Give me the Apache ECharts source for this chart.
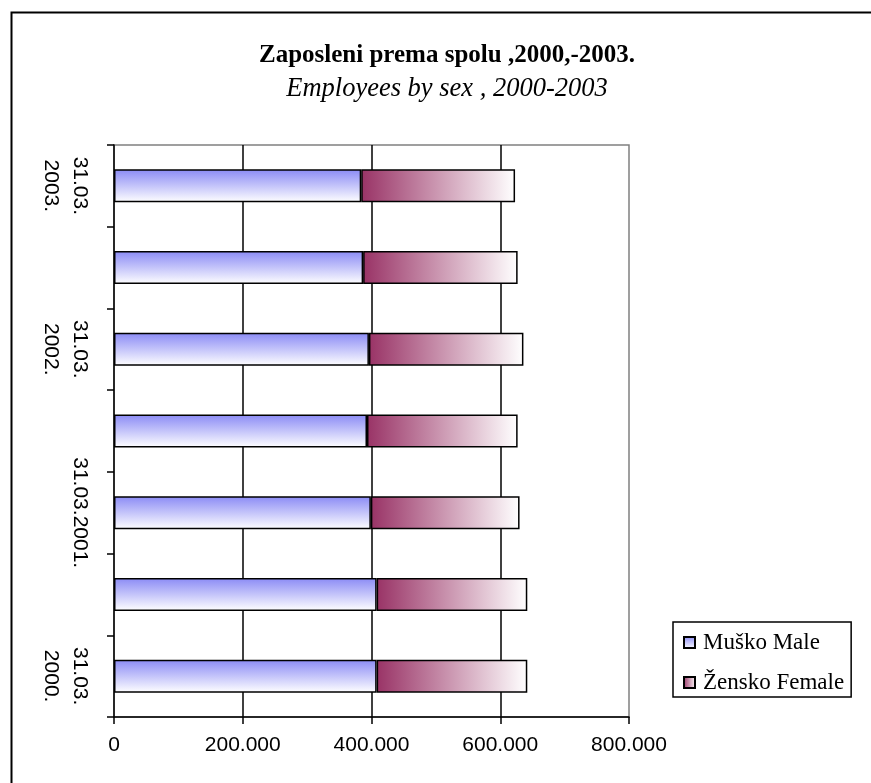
<!DOCTYPE html>
<html>
<head>
<meta charset="utf-8">
<script src="https://cdn.jsdelivr.net/npm/echarts@6/dist/echarts.min.js"></script>
<style>html,body{margin:0;padding:0;background:#fff}#c{width:871px;height:783px}</style>
</head>
<body>
<div id="c"></div>
<script>
var categories = ['31.03.2000', '30.09.2000', '31.03.2001', '30.09.2001', '31.03.2002', '30.09.2002', '31.03.2003'];
var tickLabels = ['31.03.\n2000.', '', '31.03.2001.', '', '31.03.\n2002.', '', '31.03.\n2003.'];
var male = [408000, 408000, 399000, 393000, 396000, 387000, 384000];
var female = [234000, 234000, 231000, 234000, 240000, 240000, 239000];
var seriesNames = ['Muško Male', 'Žensko Female'];
var xTicks = [0, 200000, 400000, 600000, 800000];

var chart = echarts.init(document.getElementById('c'), null, {renderer: 'canvas'});
var maleGrad = new echarts.graphic.LinearGradient(0, 0, 0, 1, [
  {offset: 0, color: '#8a8af5'}, {offset: 1, color: '#ffffff'}
]);
var femaleGrad = new echarts.graphic.LinearGradient(0, 0, 1, 0, [
  {offset: 0, color: '#993366'}, {offset: 1, color: '#ffffff'}
]);
function fmt(v) {
  if (v === 0) return '0';
  var s = String(Math.round(v));
  return s.replace(/\B(?=(\d{3})+(?!\d))/g, '.');
}
chart.setOption({
  animation: false,
  backgroundColor: '#ffffff',
  title: {
    text: 'Zaposleni prema spolu ,2000,-2003.',
    subtext: 'Employees by sex , 2000-2003',
    left: 442, top: 38, textAlign: 'center', itemGap: 8,
    textStyle: {fontFamily: 'Liberation Serif', fontWeight: 'bold', fontSize: 25, color: '#000'},
    subtextStyle: {fontFamily: 'Liberation Serif', fontStyle: 'italic', fontSize: 26.5, color: '#000'}
  },
  legend: {
    orient: 'vertical', left: 673, top: 622,
    padding: [9, 7, 3, 10], itemGap: 17,
    itemWidth: 11, itemHeight: 11, icon: 'rect',
    borderColor: '#000', borderWidth: 1.5,
    textStyle: {fontFamily: 'Liberation Serif', fontSize: 23, color: '#000', padding: [0, 0, 0, 3]},
    data: seriesNames
  },
  grid: {left: 114, right: 242, top: 145, bottom: 66, show: true, borderColor: '#808080', borderWidth: 1.5, outerBoundsMode: 'none'},
  xAxis: {
    type: 'value', min: xTicks[0], max: xTicks[xTicks.length - 1], interval: 200000,
    axisLine: {show: true, lineStyle: {color: '#000', width: 1.5}},
    axisTick: {show: true, length: 7, lineStyle: {color: '#000', width: 1.5}},
    axisLabel: {fontFamily: 'Liberation Sans', fontSize: 21, color: '#000', margin: 18, formatter: fmt},
    splitLine: {show: true, showMinLine: false, showMaxLine: false, lineStyle: {color: '#000', width: 1.5}}
  },
  yAxis: {
    type: 'category', data: categories,
    axisLine: {show: true, lineStyle: {color: '#000', width: 1.5}},
    axisTick: {show: true, length: 7, interval: 0, lineStyle: {color: '#000', width: 1.5}},
    axisLabel: {
      interval: 0, rotate: -90, margin: 20, fontFamily: 'Liberation Sans', fontSize: 21, lineHeight: 29, color: '#000',
      formatter: function (v, i) { return tickLabels[i]; }
    },
    splitLine: {show: false}
  },
  series: [
    {name: seriesNames[0], type: 'bar', stack: 'total', data: male, barWidth: 33,
     itemStyle: {color: maleGrad, borderColor: '#000', borderWidth: 1.5}},
    {name: seriesNames[1], type: 'bar', stack: 'total', data: female, barWidth: 33,
     itemStyle: {color: femaleGrad, borderColor: '#000', borderWidth: 1.5}}
  ],
  graphic: [{
    type: 'rect', left: 9, top: 10, silent: true,
    shape: {width: 900, height: 820},
    style: {fill: null, stroke: '#000', lineWidth: 2}
  }]
});
</script>
</body>
</html>
